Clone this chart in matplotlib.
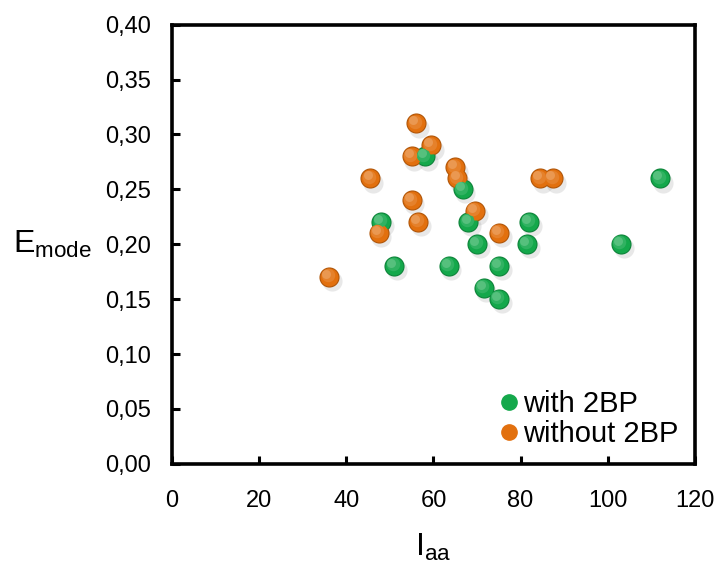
import numpy as np
import matplotlib
matplotlib.use("Agg")
import matplotlib.pyplot as plt
from matplotlib.lines import Line2D
from matplotlib.transforms import offset_copy
from matplotlib.colors import to_rgb

plt.rcParams['font.family'] = ['Liberation Sans', 'DejaVu Sans']
plt.rcParams['mathtext.fontset'] = 'custom'
plt.rcParams['mathtext.rm'] = 'Liberation Sans'

# data
with_x = [112, 58, 66.7, 48, 68, 70, 51, 63.5, 75, 71.5, 75, 82, 81.5, 103]
with_y = [0.26, 0.28, 0.25, 0.22, 0.22, 0.20, 0.18, 0.18, 0.18, 0.16, 0.15, 0.22, 0.20, 0.20]
without_x = [56, 59.5, 55, 65, 65.5, 45.5, 55, 56.5, 47.4, 69.5, 75, 36, 84.5, 87.5]
without_y = [0.31, 0.29, 0.28, 0.27, 0.26, 0.26, 0.24, 0.22, 0.21, 0.23, 0.21, 0.17, 0.26, 0.26]

green = '#14A84B'
orange = '#E2700E'
x_ticks = [0, 20, 40, 60, 80, 100, 120]
y_ticks = [0.0, 0.05, 0.10, 0.15, 0.20, 0.25, 0.30, 0.35, 0.40]


def draw_balls(ax, fig, xs, ys, color, size=210):
    # soft shadow below right
    sh = offset_copy(ax.transData, fig=fig, x=2.0, y=-3.0, units='points')
    ax.scatter(xs, ys, s=size, color='#999999', alpha=0.22, lw=0, transform=sh, zorder=2)
    base = np.array(to_rgb(color))
    ax.scatter(xs, ys, s=size, color=base * 0.78, lw=0, zorder=3)
    ax.scatter(xs, ys, s=size * 0.8, color=base, lw=0, zorder=3.01)
    # faint highlight toward upper-left
    for i, (f, mix) in enumerate([(0.45, 0.12), (0.2, 0.28)]):
        off = offset_copy(ax.transData, fig=fig, x=-1.0 - i, y=1.3 + i, units='points')
        c = base + (1 - base) * mix
        ax.scatter(xs, ys, s=size * f, color=c, lw=0, transform=off, zorder=3.02 + i * 0.01)


fig = plt.figure(figsize=(7.2, 5.72), dpi=100)
ax = fig.add_axes([0.239, 0.189, 0.726, 0.768])

draw_balls(ax, fig, with_x, with_y, green)
draw_balls(ax, fig, without_x, without_y, orange)

ax.set_xlim(0, 120)
ax.set_ylim(0, 0.40)
ax.set_xticks(x_ticks)
ax.set_yticks(y_ticks)
ax.set_xticklabels([str(t) for t in x_ticks])
ax.set_yticklabels([f"{t:.2f}".replace('.', ',') for t in y_ticks])
ax.tick_params(direction='in', length=6, width=2.2, labelsize=17)
ax.tick_params(axis='y', pad=15)
ax.tick_params(axis='x', pad=19)
for sp in ax.spines.values():
    sp.set_linewidth(2.6)

ax.set_xlabel(r"I$_{\mathrm{aa}}$", fontsize=23, labelpad=14)
ax.set_ylabel(r"E$_{\mathrm{mode}}$", fontsize=23, rotation=0, labelpad=38, va='center')

handles = [
    Line2D([], [], ls='none', marker='o', markersize=11, markerfacecolor=green, markeredgecolor=green),
    Line2D([], [], ls='none', marker='o', markersize=11, markerfacecolor=orange, markeredgecolor=orange),
]
ax.legend(handles, ['with 2BP', 'without 2BP'], loc='lower right', frameon=False,
          fontsize=21, handletextpad=0.05, labelspacing=0.05, borderaxespad=0.15,
          handlelength=0.9)

fig.savefig('out.png', dpi=100)
